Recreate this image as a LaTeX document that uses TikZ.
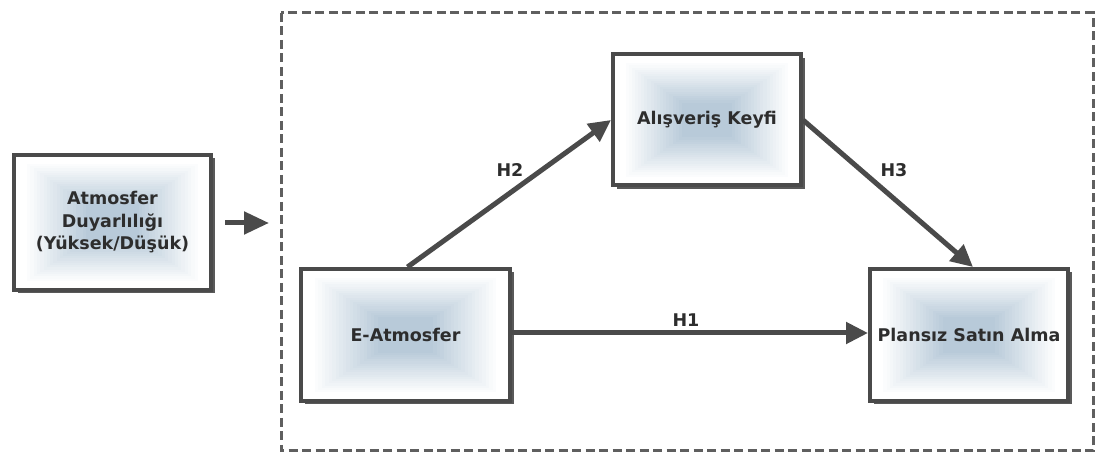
\documentclass[tikz,border=0pt]{standalone}
\usepackage{fontspec}
\setmainfont{DejaVu Sans}
\usetikzlibrary{arrows.meta,shadows,calc}
\definecolor{boxblue}{RGB}{184,202,217}
\definecolor{edgegray}{RGB}{74,74,74}
\definecolor{txtgray}{RGB}{45,45,45}
\definecolor{dashgray}{RGB}{95,95,95}
\tikzset{
  gbox/.style={draw=edgegray, line width=4pt, inner sep=0pt,
    general shadow={shadow xshift=3.5pt, shadow yshift=-3.5pt, fill=black!65},
    fill=white,
    path picture={
      \foreach \i in {4,...,22}{
        \pgfmathtruncatemacro{\p}{(\i-3)*100/19}
        \fill[boxblue!\p!white]
          ($(path picture bounding box.south west)!{\i/60}!(path picture bounding box.north east)$)
          rectangle
          ($(path picture bounding box.north east)!{\i/60}!(path picture bounding box.south west)$);
      }
    },
    font=\fontsize{17.5}{22.5}\selectfont\bfseries, text=txtgray, align=center},
  conn/.style={draw=edgegray, line width=5pt, -{Triangle[length=22pt,width=21pt]}},
  hlabel/.style={font=\fontsize{17.5}{20}\selectfont\bfseries, text=txtgray},
  dashframe/.style={draw=dashgray, line width=3pt, dash pattern=on 9pt off 4.5pt}
}
\begin{document}
\begin{tikzpicture}[x=1pt,y=-1pt]
\useasboundingbox (0,0) rectangle (1096,454);
\coordinate (f1) at (281,13);
\coordinate (f2) at (1093,451);
\draw[dashframe] (f1) rectangle (f2);
\node[gbox, minimum width=197pt, minimum height=135pt] (ad) at (112.5,222.5) {Atmosfer\\Duyarlılığı\\(Yüksek/Düşük)};
\node[gbox, minimum width=188pt, minimum height=131pt] (ak) at (707,120) {Alışveriş Keyfi};
\node[gbox, minimum width=209pt, minimum height=132pt] (ea) at (405.5,335) {E-Atmosfer};
\node[gbox, minimum width=198pt, minimum height=132pt] (ps) at (969,335) {Plansız Satın Alma};
\coordinate (sa) at (225,223);
\coordinate (sb) at (269,223);
\draw[conn, -{Triangle[length=25pt,width=22pt]}] (sa) -- (sb);
\draw[conn] ([xshift=2pt]ea.north) -- (ak.west);
\draw[conn] (ak.east) -- ([xshift=4pt]ps.north);
\draw[conn] ([yshift=2pt]ea.east) -- ([yshift=2pt]ps.west);
\node[hlabel] (h2) at (510,170) {H2};
\node[hlabel] (h3) at (894,170) {H3};
\node[hlabel] (h1) at (686,320) {H1};
\end{tikzpicture}
\end{document}
